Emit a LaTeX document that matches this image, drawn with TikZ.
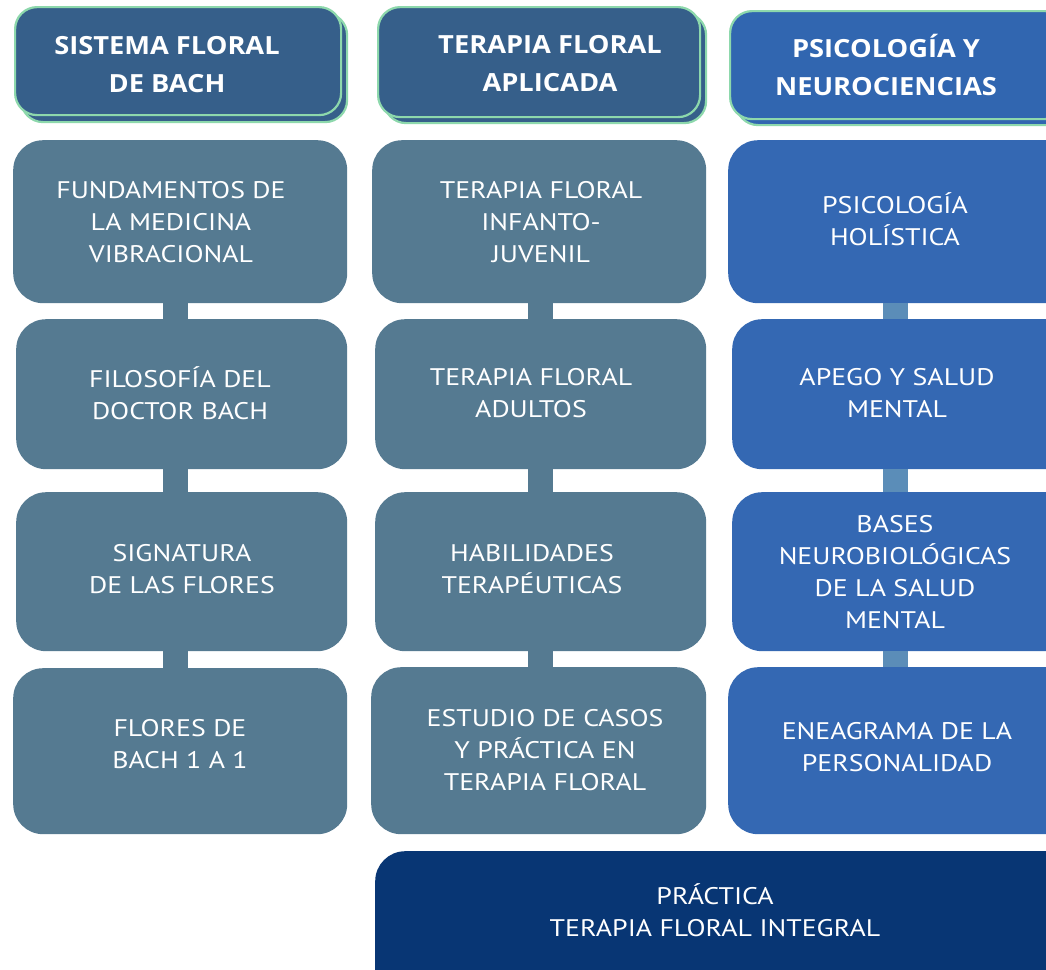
\documentclass[tikz,border=0pt]{standalone}
\usepackage{fontspec}
\newfontfamily\bodyfont{PT Sans}[FakeStretch=1.16]
\newfontfamily\headfont{Open Sans}[FakeStretch=1.09]
\definecolor{hdark}{HTML}{365F8A}
\definecolor{slate}{HTML}{557A91}
\definecolor{hblue}{HTML}{3166B0}
\definecolor{cblue}{HTML}{3468B3}
\definecolor{lconn}{HTML}{5B8DB8}
\definecolor{navy}{HTML}{083674}
\definecolor{mint}{HTML}{8DD8AC}
\tikzset{
  box/.style={rounded corners=30pt, inner sep=0pt},
  headbox/.style={rounded corners=22pt, draw=mint, line width=2.2pt, inner sep=0pt},
  txt/.style={text=white, align=center, font=\bodyfont\fontsize{24}{32}\selectfont, inner sep=0pt},
  htxt/.style={text=white, align=center, font=\headfont\bfseries\fontsize{25}{38}\selectfont, inner sep=0pt},
  conn/.style={line width=25pt},
}
\newcommand{\boxat}[6]{% name, x1, y1, x2, y2, color
  \node[box, fill=#6, minimum width={#4-#2}, minimum height={#5-#3}, anchor=north west] (#1) at (#2,#3) {};}
\newcommand{\hboxat}[6]{%
  \node[headbox, fill=#6, minimum width={#4-#2}, minimum height={#5-#3}, anchor=north west] (#1) at (#2,#3) {};}
\begin{document}
\begin{tikzpicture}[x=1pt,y=-1pt]
\useasboundingbox[fill=white] (0,0) rectangle (1046,969);
% headers
\hboxat{h1b}{20}{12}{346}{121}{hdark}
\hboxat{h1}{14}{6}{340}{114}{hdark}
\hboxat{h2b}{383}{12}{705}{122}{hdark}
\hboxat{h2}{377}{6}{699}{116}{hdark}
\hboxat{h3b}{735}{16}{1070}{124}{hblue}
\hboxat{h3}{729}{10}{1066}{118}{hblue}
\node[htxt] (h1t) at (167,65) {SISTEMA FLORAL\\DE BACH};
\node[htxt] (h2t) at (550,64) {TERAPIA FLORAL\\APLICADA};
\node[htxt] (h3t) at (886,65) {PSICOLOGÍA Y\\NEUROCIENCIAS};
% column 1
\boxat{a1}{13}{140}{347}{303}{slate}
\boxat{a2}{16}{319}{347}{469}{slate}
\boxat{a3}{16}{492}{347}{651}{slate}
\boxat{a4}{13}{668}{347}{834}{slate}
% column 2
\boxat{b1}{372}{140}{706}{303}{slate}
\boxat{b2}{375}{319}{706}{469}{slate}
\boxat{b3}{375}{492}{706}{651}{slate}
\boxat{b4}{371}{667}{706}{834}{slate}
% column 3
\boxat{c1}{728}{140}{1076}{303}{cblue}
\boxat{c2}{732}{319}{1076}{469}{cblue}
\boxat{c3}{732}{492}{1076}{651}{cblue}
\boxat{c4}{728}{667}{1076}{834}{cblue}
% bottom
\boxat{d}{375}{851}{1076}{1000}{navy}
% connectors (vertical, fixed x per column)
\coordinate (xa) at (175.5,0);
\coordinate (xb) at (540.5,0);
\coordinate (xc) at (895.5,0);
\foreach \u/\v in {a1/a2,a2/a3,a3/a4}
  \draw[conn, slate] (xa |- \u.south) -- (xa |- \v.north);
\foreach \u/\v in {b1/b2,b2/b3,b3/b4}
  \draw[conn, slate] (xb |- \u.south) -- (xb |- \v.north);
\foreach \u/\v in {c1/c2,c2/c3,c3/c4}
  \draw[conn, lconn] (xc |- \u.south) -- (xc |- \v.north);
% texts
\node[txt] (a1t) at (171,222) {FUNDAMENTOS DE\\LA MEDICINA\\VIBRACIONAL};
\node[txt] (a2t) at (180,393) {FILOSOFÍA DEL\\DOCTOR BACH};
\node[txt] (a3t) at (182,569) {SIGNATURA\\DE LAS FLORES};
\node[txt] (a4t) at (180,744) {FLORES DE\\BACH 1 A 1};
\node[txt] (b1t) at (541,222) {TERAPIA FLORAL\\INFANTO-\\JUVENIL};
\node[txt] (b2t) at (531,393) {TERAPIA FLORAL\\ADULTOS};
\node[txt] (b3t) at (532,569) {HABILIDADES\\TERAPÉUTICAS};
\node[txt] (b4t) at (545,750) {ESTUDIO DE CASOS\\Y PRÁCTICA EN\\TERAPIA FLORAL};
\node[txt] (c1t) at (895,219) {PSICOLOGÍA\\HOLÍSTICA};
\node[txt] (c2t) at (897,393) {APEGO Y SALUD\\MENTAL};
\node[txt] (c3t) at (895,572) {BASES\\NEUROBIOLÓGICAS\\DE LA SALUD\\MENTAL};
\node[txt] (c4t) at (897,747) {ENEAGRAMA DE LA\\PERSONALIDAD};
\node[txt] (dt) at (715,910) {PRÁCTICA\\TERAPIA FLORAL INTEGRAL};
\end{tikzpicture}
\end{document}
